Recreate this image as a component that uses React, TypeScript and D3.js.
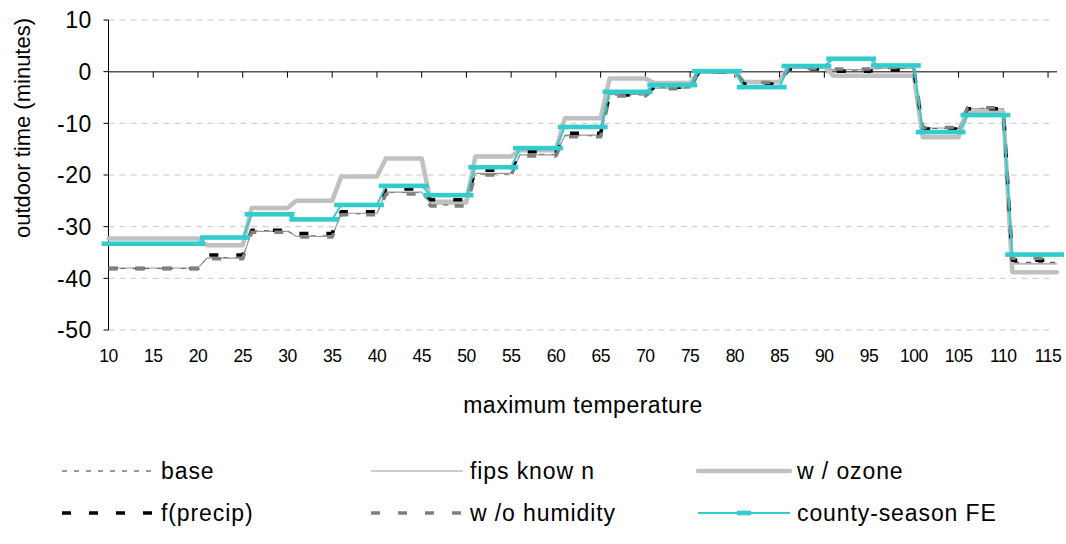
import React from "react";
import * as d3 from "d3";

// temperature bins (°F): each bin is flat from binLow to binHigh
const binLow = [10, 21, 26, 31, 36, 41, 46, 51, 56, 61, 66, 71, 76, 81, 86, 91, 96, 101, 106, 111];
const binHigh = [20, 25, 30, 35, 40, 45, 50, 55, 60, 65, 70, 75, 80, 85, 90, 95, 100, 105, 110, 116];

const baseVals = [-38.1, -36.0, -30.8, -31.8, -27.5, -23.4, -25.8, -19.8, -16.0, -12.4, -4.5, -3.1, 0.0, -2.3, 0.6, 0.3, 0.6, -11.0, -7.1, -36.9];
const fipsVals = [-38.0, -36.1, -30.9, -31.9, -27.4, -23.3, -25.6, -19.7, -16.1, -12.3, -4.4, -3.2, 0.1, -2.2, 0.7, 0.4, 0.7, -10.9, -7.2, -37.2];
const ozoneVals = [-32.3, -33.6, -26.4, -25.0, -20.3, -16.8, -25.2, -16.4, -15.2, -9.0, -1.3, -2.2, 0.0, -2.0, 1.0, -0.8, -0.8, -12.7, -7.8, -38.8];
const precipVals = [-38.1, -35.5, -30.7, -31.3, -27.1, -22.7, -24.8, -19.1, -15.5, -11.9, -4.5, -3.0, 0.0, -2.4, 0.5, 0.1, 0.3, -11.1, -7.2, -36.5];
const humidityVals = [-38.1, -36.2, -31.1, -32.0, -27.7, -23.7, -26.0, -20.0, -16.3, -12.6, -4.7, -3.3, 0.0, -2.1, 0.6, 0.5, 0.8, -10.8, -7.0, -36.1];
const countyVals = [-33.3, -32.1, -27.6, -28.6, -25.8, -22.1, -23.9, -18.5, -14.8, -10.7, -3.9, -2.6, 0.1, -3.0, 1.1, 2.5, 1.2, -11.7, -8.4, -35.4];

const xTickLabels = [10, 15, 20, 25, 30, 35, 40, 45, 50, 55, 60, 65, 70, 75, 80, 85, 90, 95, 100, 105, 110, 115];
const yTickValues = [10, 0, -10, -20, -30, -40, -50];

const seriesNames = ["base", "fips know n", "w / ozone", "f(precip)", "w /o humidity", "county-season FE"];

const FONT = "'Liberation Sans', Arial, sans-serif";

type Style = { stroke: string; width: number; dash?: string; cap?: string; marker?: boolean };
const styles: Style[] = [
  { stroke: "#333333", width: 1, dash: "5,7" },
  { stroke: "#999999", width: 1.2 },
  { stroke: "#C0C0C0", width: 4.5, cap: "round" },
  { stroke: "#000000", width: 3.5, dash: "9,18" },
  { stroke: "#808080", width: 3.5, dash: "9,18" },
  { stroke: "#33CCCC", width: 2, marker: true },
];
const seriesVals = [baseVals, fipsVals, ozoneVals, precipVals, humidityVals, countyVals];

export default function App() {
  const W = 1066;
  const H = 544;
  const x = d3.scaleLinear().domain([10, 116]).range([108.5, 1057]);
  const y = d3.scaleLinear().domain([-50, 10]).range([330, 20]);

  const line = d3
    .line<[number, number]>()
    .x((d) => x(d[0]))
    .y((d) => y(d[1]));

  const pts = (vals: number[]) => {
    const out: [number, number][] = [];
    vals.forEach((v, i) => {
      out.push([binLow[i], v]);
      out.push([binHigh[i], v]);
    });
    return out;
  };

  const legendCols = [62, 371, 698];
  const legendRows = [471, 513];
  const lineLen = 92;

  return (
    <svg width={W} height={H} style={{ position: "absolute", left: 0, top: 0, background: "#fff" }} fontFamily={FONT}>
      {/* gridlines */}
      {yTickValues.filter((v) => v !== 0).map((v) => (
        <line key={"g" + v} x1={x(10)} x2={1053} y1={y(v)} y2={y(v)} stroke="#C8C8C8" strokeWidth={1} strokeDasharray="6,5" />
      ))}
      {/* y axis */}
      <line x1={x(10)} x2={x(10)} y1={y(10)} y2={y(-50)} stroke="#000" strokeWidth={1} />
      {yTickValues.map((v) => (
        <g key={"yt" + v}>
          <line x1={x(10) - 5} x2={x(10)} y1={y(v)} y2={y(v)} stroke="#000" strokeWidth={1} />
          <text x={92} y={y(v)} dy="0.36em" textAnchor="end" fontSize={23} letterSpacing={0.6} fill="#000">{v}</text>
        </g>
      ))}
      {/* x axis at 0 */}
      <line x1={x(10)} x2={x(116)} y1={y(0)} y2={y(0)} stroke="#555" strokeWidth={1.5} />
      {xTickLabels.map((t) => (
        <g key={"xt" + t}>
          <line x1={x(t)} x2={x(t)} y1={y(0)} y2={y(0) + 6} stroke="#000" strokeWidth={1} />
          <text x={x(t)} y={356} dy="0.36em" textAnchor="middle" fontSize={17.5} letterSpacing={-0.5} fill="#000">{t}</text>
        </g>
      ))}
      <text x={583} y={405} dy="0.36em" textAnchor="middle" fontSize={23} letterSpacing={0.5} fill="#000">maximum temperature</text>
      <text transform={`translate(22,128) rotate(-90)`} dy="0.36em" textAnchor="middle" fontSize={22} fill="#000">outdoor time (minutes)</text>

      {/* series */}
      {seriesVals.map((vals, si) => {
        const s = styles[si];
        return (
          <g key={"s" + si}>
            <path d={line(pts(vals)) || ""} fill="none" stroke={s.stroke} strokeWidth={s.width} strokeDasharray={s.dash} strokeLinecap={(s.cap as any) || "butt"} strokeLinejoin="round" />
            {s.marker &&
              vals.map((v, i) => (
                <rect key={i} x={x(binLow[i]) - 7} width={x(binHigh[i]) - x(binLow[i]) + 14} y={y(v) - 2.3} height={4.6} fill={s.stroke} />
              ))}
          </g>
        );
      })}

      {/* legend */}
      {seriesNames.map((name, i) => {
        const col = legendCols[i % 3];
        const row = legendRows[Math.floor(i / 3)];
        const s = styles[i];
        return (
          <g key={"l" + i}>
            <line x1={col} x2={col + lineLen} y1={row} y2={row} stroke={s.stroke} strokeWidth={s.width} strokeDasharray={s.dash} strokeLinecap={(s.cap as any) || "butt"} />
            {s.marker && <rect x={col + lineLen / 2 - 7} y={row - 2.3} width={14} height={4.6} fill={s.stroke} />}
            <text x={col + lineLen + 7} y={row} dy="0.36em" fontSize={23} letterSpacing={0.9} fill="#000">{name}</text>
          </g>
        );
      })}
    </svg>
  );
}
